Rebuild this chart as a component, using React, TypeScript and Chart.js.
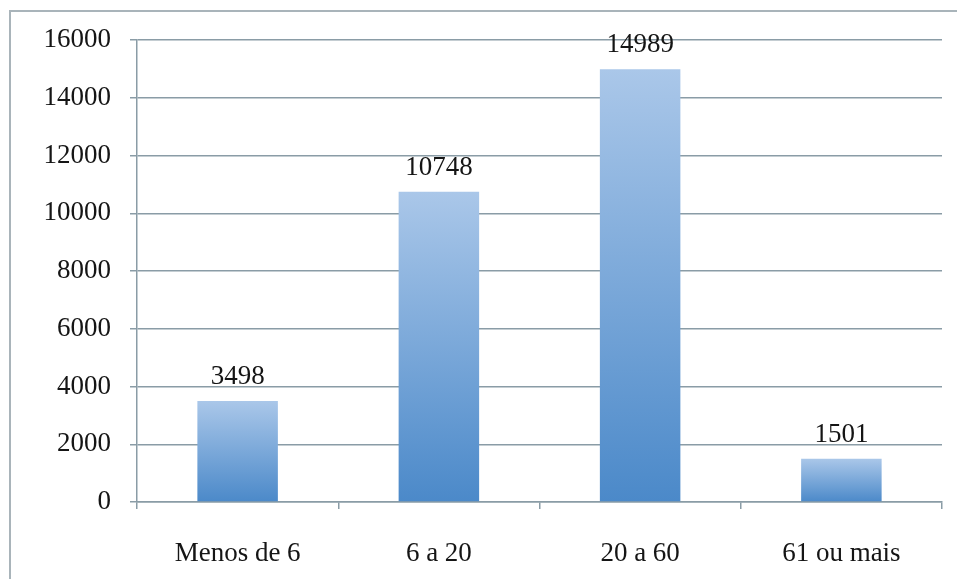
import React, { useEffect, useRef } from "react";
import { Chart, registerables } from "chart.js";

Chart.register(...registerables);

const categories = ["Menos de 6", "6 a 20", "20 a 60", "61 ou mais"];
const values = [3498, 10748, 14989, 1501];
const yMax = 16000;
const yStep = 2000;

const FONT = "'Liberation Serif', 'Times New Roman', serif";
const GRID = "#8a9ca6";

const valueLabels = {
  id: "valueLabels",
  afterDatasetsDraw(chart: any) {
    const ctx = chart.ctx;
    const meta = chart.getDatasetMeta(0);
    ctx.save();
    ctx.font = `27px ${FONT}`;
    ctx.fillStyle = "#151515";
    ctx.textAlign = "center";
    ctx.textBaseline = "alphabetic";
    meta.data.forEach((el: any, i: number) => {
      ctx.fillText(String(values[i]), el.x, el.y - 17);
    });
    ctx.restore();
  },
};

export default function App() {
  const ref = useRef<HTMLCanvasElement | null>(null);
  useEffect(() => {
    if (!ref.current) return;
    const chart = new Chart(ref.current, {
      type: "bar",
      data: {
        labels: categories,
        datasets: [
          {
            data: values,
            barPercentage: 0.4,
            categoryPercentage: 1,
            borderWidth: 0,
            backgroundColor: (c: any) => {
              const ch = c.chart;
              if (!ch.chartArea || c.dataIndex === undefined) return "#7aa7da";
              const ys = ch.scales.y;
              const top = ys.getPixelForValue(values[c.dataIndex]);
              const bottom = ys.getPixelForValue(0);
              const g = ch.ctx.createLinearGradient(0, top, 0, bottom);
              g.addColorStop(0, "#aac7e9");
              g.addColorStop(1, "#4b89c9");
              return g;
            },
          },
        ],
      },
      options: {
        animation: false,
        responsive: true,
        maintainAspectRatio: false,
        layout: { padding: { top: 40, right: 15, left: 0, bottom: 0 } },
        plugins: {
          legend: { display: false },
          tooltip: { enabled: false },
        },
        scales: {
          x: {
            grid: {
              offset: true,
              drawOnChartArea: false,
              drawTicks: true,
              tickLength: 7,
              color: GRID,
              lineWidth: 1.5,
            },
            border: { display: true, color: GRID, width: 1.5 },
            ticks: {
              color: "#151515",
              font: { family: FONT, size: 27 },
              padding: 29,
              maxRotation: 0,
            },
            afterFit: (s: any) => {
              s.height = 77;
              s.paddingLeft = 0;
              s.paddingRight = 0;
            },
          },
          y: {
            min: 0,
            max: yMax,
            ticks: {
              stepSize: yStep,
              color: "#151515",
              font: { family: FONT, size: 27 },
              padding: 19,
              callback: (v: any) => String(v),
            },
            grid: {
              color: GRID,
              lineWidth: 1.5,
              tickLength: 7,
            },
            border: { display: true, color: GRID, width: 1.5 },
            afterFit: (s: any) => {
              s.width = 137;
              s.paddingTop = 0;
              s.paddingBottom = 0;
            },
          },
        },
      },
      plugins: [valueLabels],
    });
    return () => chart.destroy();
  }, []);

  return (
    <div
      style={{
        position: "absolute",
        left: 0,
        top: 0,
        width: 957,
        height: 579,
        background: "#ffffff",
        overflow: "hidden",
      }}
    >
      <div
        style={{
          position: "absolute",
          left: 9,
          top: 10,
          width: 1000,
          height: 700,
          borderLeft: "2px solid #a9b4ba",
          borderTop: "2px solid #a9b4ba",
        }}
      />
      <canvas
        ref={ref}
        style={{ position: "absolute", left: 0, top: 0, width: 957, height: 579 }}
      />
    </div>
  );
}
